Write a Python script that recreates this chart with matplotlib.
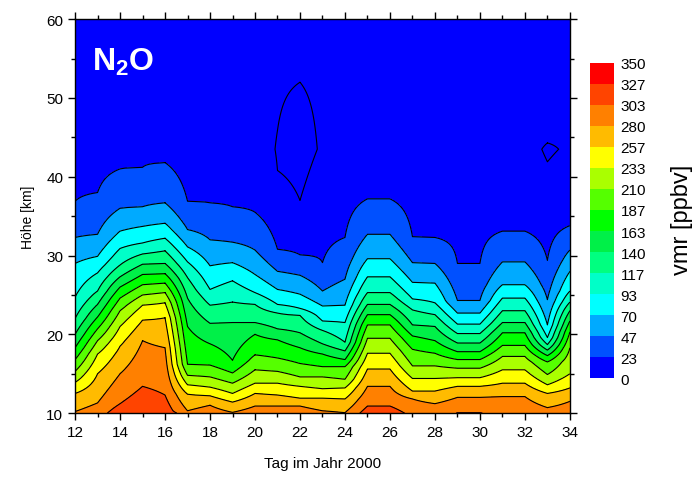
import numpy as np
import matplotlib
matplotlib.use("Agg")
import matplotlib.pyplot as plt
from matplotlib.ticker import MultipleLocator

plt.rcParams['font.family'] = ['Liberation Sans', 'DejaVu Sans']
plt.rcParams['mathtext.fontset'] = 'custom'
plt.rcParams['mathtext.bf'] = 'Liberation Sans:bold'

nan = np.nan

# Tage und Konturstufen (ppbv)
tage = np.arange(12, 35)
stufen = np.linspace(0, 350, 16)
farben = ['#0000FF', '#0050FF', '#00AAFF', '#00FFFF', '#00FFC8', '#00FF80',
          '#00F048', '#00FF00', '#55FF00', '#AAFF00', '#FFFF00', '#FFBB00',
          '#FF8000', '#FF4400', '#FF0000']

# Hoehe (km) der Isolinien je Tag (Tag 12 ... 34)
h_023 = [36.9, 38.0, 41.0, 41.2, 41.8, 36.9, 36.7, 36.2, 35.5, 30.8, 30.1, 29.1,
         32.3, 37.2, 37.2, 32.4, 32.3, 29.0, 29.0, 33.1, 33.1, 29.4, 33.8]
h_047 = [32.3, 32.7, 36.0, 36.2, 36.7, 33.3, 32.0, 31.7, 30.7, 28.0, 27.5, 25.5,
         27.0, 32.7, 32.7, 29.1, 29.0, 24.3, 24.3, 29.2, 29.2, 24.4, 30.7]
h_070 = [29.0, 29.9, 33.1, 33.7, 34.1, 31.1, 28.7, 29.1, 27.6, 25.7, 25.1, 23.6,
         23.7, 29.6, 29.6, 26.6, 26.5, 22.7, 22.7, 26.3, 26.3, 21.2, 28.0]
h_093 = [24.7, 27.8, 30.9, 31.6, 32.2, 29.2, 25.7, 26.8, 25.3, 23.8, 23.3, 21.7,
         21.5, 27.3, 27.3, 24.5, 24.0, 21.3, 21.3, 24.6, 24.6, 19.6, 25.5]
h_117 = [22.0, 25.5, 28.8, 30.2, 30.6, 27.2, 23.7, 24.1, 23.8, 22.7, 22.4, 20.5,
         19.0, 25.3, 25.3, 23.1, 22.5, 20.1, 20.1, 23.0, 23.0, 18.7, 24.1]
h_140 = [20.0, 23.8, 27.3, 28.9, 29.0, 24.6, 21.4, 21.5, 21.5, 20.7, 20.2, 18.8,
         17.9, 23.8, 23.8, 21.2, 21.0, 18.9, 18.9, 21.5, 21.5, 18.0, 23.0]
h_163 = [18.3, 22.2, 26.0, 27.6, 27.7, 21.0, 18.8, 16.7, 20.0, 19.3, 18.3, 17.5,
         16.8, 22.5, 22.5, 19.8, 19.2, 17.8, 17.8, 20.2, 20.2, 17.3, 21.7]
h_187 = [16.8, 20.7, 24.6, 26.3, 26.5, 16.2, 16.1, 15.1, 17.4, 17.0, 16.3, 15.9,
         15.9, 21.2, 21.2, 18.1, 17.6, 16.8, 16.8, 18.6, 18.6, 16.5, 20.3]
h_210 = [15.3, 19.2, 23.0, 25.0, 25.3, 14.8, 14.6, 13.8, 15.5, 15.3, 14.6, 14.6,
         14.3, 19.5, 19.5, 16.0, 16.0, 15.7, 15.7, 17.2, 17.2, 14.9, 18.3]
h_233 = [13.9, 17.5, 21.0, 23.7, 24.0, 13.6, 13.3, 12.5, 13.8, 13.8, 13.4, 13.1,
         13.2, 17.6, 17.6, 14.4, 14.4, 14.5, 14.5, 15.5, 15.5, 13.6, 15.0]
h_257 = [12.5, 15.0, 18.5, 21.8, 22.1, 12.4, 12.2, 11.4, 12.5, 12.3, 11.9, 11.9,
         11.8, 15.6, 15.6, 12.8, 12.8, 13.4, 13.4, 13.8, 13.8, 12.5, 13.2]
h_280 = [10.2, 11.3, 15.0, 19.2, 18.3, 10.3, 11.0, 10.1, 10.9, 10.9, 10.9, 10.3,
         10.05, 13.4, 13.4, 11.8, 11.2, 12.0, 12.0, 12.1, 12.1, 10.7, 11.5]
h_303 = [nan, nan, 11.2, 13.4, 12.3, nan, nan, nan, nan, nan, nan, nan,
         nan, 10.9, 10.9, nan, nan, 10.05, 10.05, nan, nan, nan, nan]

# vmr am Boden (10 km), in 43.5 km und oben (60 km)
vmr_10km = [283, 292, 318, 322, 318, 290, 292, 282, 292, 292, 292, 285,
            281, 315, 315, 297, 292, 304, 304, 298, 298, 288, 293]
vmr_43km = [12, 14, 20, 21, 21, 11, 10, 9, 8, -1, -8, 2.4,
            6, 12, 12, 7, 7, 4, 4, 8, 9, -3, 3]
vmr_60km = 4.0

# Tage mit negativen Werten: untere / obere Nullinie (km)
null_tage = [21, 22, 33]
null_unten = [40.8, 37.0, 41.9]
null_oben = [45.9, 52.0, 44.3]

linien = [h_023, h_047, h_070, h_093, h_117, h_140, h_163, h_187,
          h_210, h_233, h_257, h_280, h_303]

hoehe = np.arange(10, 60.001, 0.1)
Z = np.zeros((len(hoehe), len(tage)))
for j, d in enumerate(tage):
    h = [10.0]
    v = [vmr_10km[j]]
    for k, lin in enumerate(linien):
        if not np.isnan(lin[j]):
            h.append(lin[j])
            v.append(stufen[k + 1])
    h.append(43.5)
    v.append(vmr_43km[j])
    if d in null_tage:
        i = null_tage.index(d)
        h += [null_unten[i], null_oben[i]]
        v += [0.0, 0.0]
    h.append(60.0)
    v.append(vmr_60km)
    o = np.argsort(h)
    Z[:, j] = np.interp(hoehe, np.array(h)[o], np.array(v)[o])

fig = plt.figure(figsize=(6.95, 4.81), dpi=100)
ax = fig.add_axes([0.108, 0.139, 0.712, 0.819])

cf = ax.contourf(tage, hoehe, np.maximum(Z, 0), levels=stufen, colors=farben)
ax.contour(tage, hoehe, Z, levels=stufen[:-1], colors='k', linewidths=0.8)

ax.set_xlim(12, 34)
ax.set_ylim(10, 60)
ax.xaxis.set_major_locator(MultipleLocator(2))
ax.xaxis.set_minor_locator(MultipleLocator(1))
ax.yaxis.set_major_locator(MultipleLocator(10))
ax.yaxis.set_minor_locator(MultipleLocator(5))
ax.tick_params(which='both', direction='out', top=True, right=True,
               labelsize=11, width=1)
ax.tick_params(which='major', length=5)
ax.tick_params(which='minor', length=3)
for s in ax.spines.values():
    s.set_linewidth(1)

ax.set_xlabel('Tag im Jahr 2000', fontsize=11, labelpad=12)
ax.set_ylabel('Höhe [km]', fontsize=10, labelpad=8)

ax.text(0.034, 0.873, r'N$_{\mathbf{2}}$O', transform=ax.transAxes, color='white',
        fontsize=23, fontweight='bold', ha='left', va='baseline')

# Farbskala
cax = fig.add_axes([0.849, 0.212, 0.034, 0.655])
cb = fig.colorbar(cf, cax=cax, ticks=stufen)
cb.ax.set_yticklabels([f'{s:.0f}' for s in stufen])
cb.ax.tick_params(length=0, labelsize=11, pad=5)
cb.outline.set_visible(False)
fig.text(0.981, 0.543, 'vmr [ppbv]', rotation=90, fontsize=17,
         ha='center', va='center')

fig.savefig('out.png', dpi=100)
